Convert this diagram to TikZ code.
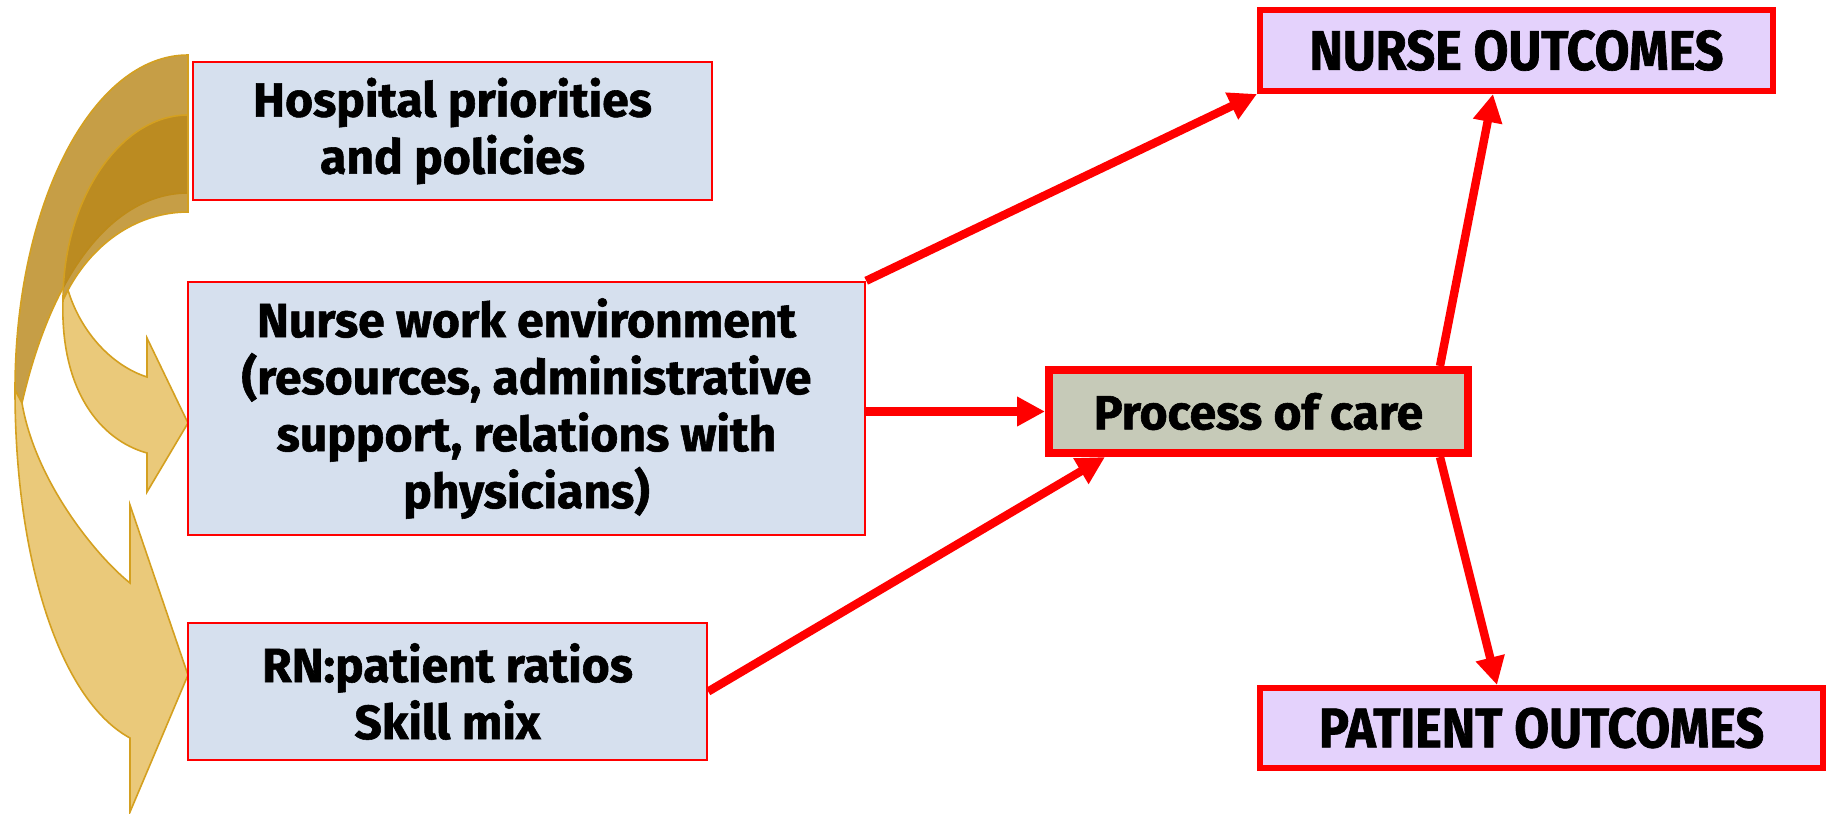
\documentclass[tikz,border=0pt]{standalone}
\usepackage{fontspec}
\newfontfamily\boxfont{Fira Sans}[FakeBold=1.2]
\newfontfamily\outfont{Fira Sans}[FakeStretch=0.9,FakeBold=1.2]
\usetikzlibrary{arrows.meta,positioning}
\definecolor{boxred}{RGB}{255,0,0}
\definecolor{factorblue}{RGB}{214,224,238}
\definecolor{careolive}{RGB}{198,202,184}
\definecolor{outlilac}{RGB}{228,210,252}
\definecolor{goldback}{RGB}{184,134,24}
\definecolor{goldfront}{RGB}{234,201,122}
\definecolor{goldline}{RGB}{212,160,32}

\begin{document}
\begin{tikzpicture}[
x=0.5pt,y=-0.5pt,
factor/.style={
  draw=boxred,
  line width=1.2pt,
  fill=factorblue,
  inner sep=0pt,
  align=center,
  font=\boxfont\bfseries\fontsize{24}{28.5}\selectfont
},
care/.style={
  factor,
  line width=4pt,
  fill=careolive
},
outcome/.style={
  draw=boxred,
  line width=3pt,
  fill=outlilac,
  inner sep=0pt,
  font=\outfont\bfseries\fontsize{28}{32}\selectfont
},
link/.style={
  draw=boxred,
  line width=4.2pt,
  -{Triangle[length=14pt,width=14pt]}
},
back/.style={draw=goldline,line width=0.8pt,fill=goldback,fill opacity=0.8},
front/.style={draw=goldline,line width=0.8pt,fill=goldfront}
]
\useasboundingbox (0,0) rectangle (1828,814);

% curved arrows on the left
\path[back] (188,55) .. controls (92,55) and (15,205) .. (15,390)
  -- (22,403) .. controls (55,260) and (120,193) .. (188,193) -- cycle;
\path[back] (188,115) .. controls (120,115) and (63,200) .. (63,300)
  -- (68,290) .. controls (95,240) and (140,212) .. (188,212) -- cycle;
\path[front] (15,390) .. controls (15,560) and (60,700) .. (130,738)
  -- (130,812) -- (188,675) -- (130,505) -- (130,583)
  .. controls (95,555) and (35,480) .. (22,403) -- cycle;
\path[front] (63,300) .. controls (60,390) and (100,440) .. (147,453)
  -- (147,492) -- (188,423) -- (147,338) -- (147,377)
  .. controls (110,365) and (80,330) .. (68,290) -- cycle;

\node[factor,minimum width=259.5pt,minimum height=69pt] at (452.5,131)
  (hosp) {Hospital priorities\\and policies};
\node[factor,minimum width=338.5pt,minimum height=126.5pt] at (526.5,408.5)
  (env) {Nurse work environment\\(resources, administrative\\support, relations with\\physicians)};
\node[factor,minimum width=259.5pt,minimum height=68.5pt] at (447.5,691.5)
  (rn) {RN:patient ratios\\Skill mix};
\node[care,minimum width=209.5pt,minimum height=41.5pt] at (1258.5,411.5)
  (proc) {Process of care};
\node[outcome,minimum width=256.5pt,minimum height=40.5pt] at (1516.5,50.5)
  (nurse) {NURSE OUTCOMES};
\node[outcome,minimum width=281.5pt,minimum height=40pt] at (1541.5,728)
  (patient) {PATIENT OUTCOMES};

\draw[link] (env.north east) -- (nurse.south west);
\draw[link] (env.east |- proc.west) -- (proc.west);
\draw[link] (rn.east) -- ([xshift=30pt]proc.south west);
\draw[link] ([xshift=-16pt]proc.north east) -- ([xshift=118pt]nurse.south west);
\draw[link] ([xshift=-16pt]proc.south east) -- ([xshift=120pt]patient.north west);
\end{tikzpicture}
\end{document}
